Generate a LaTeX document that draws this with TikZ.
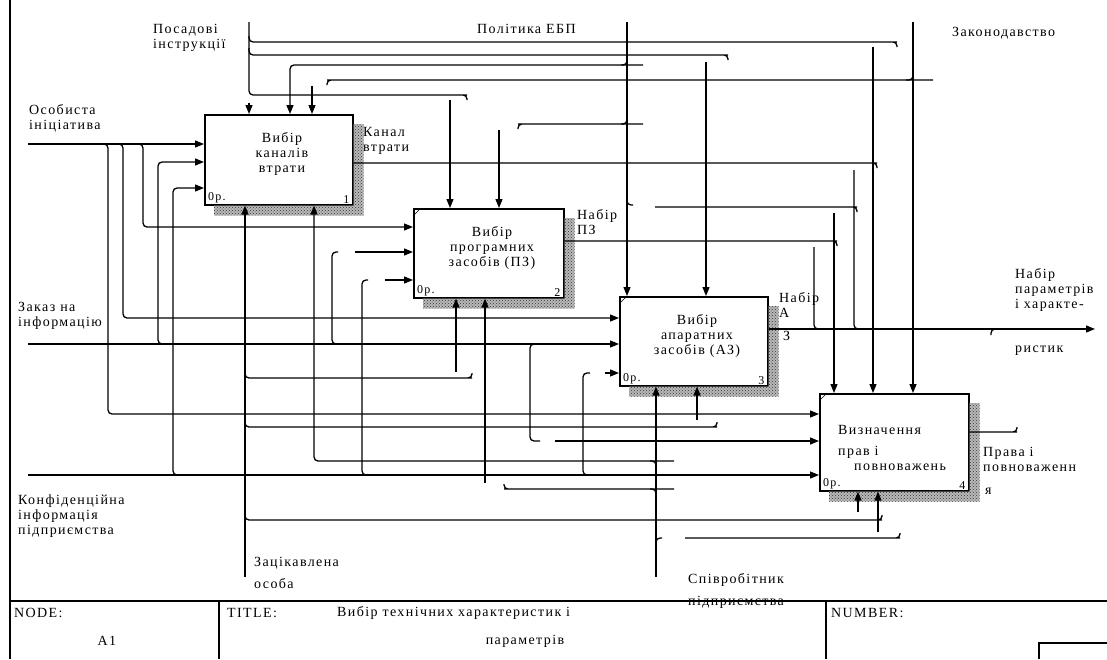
\documentclass[tikz,border=0pt]{standalone}
\usepackage{fontspec}
\setmainfont{Liberation Serif}
\newfontfamily\idef[LetterSpace=10]{Liberation Serif}
\usetikzlibrary{arrows.meta, patterns}

\begin{document}
\begin{tikzpicture}[x=1pt, y=-1pt,
    wire/.style={line width=1.3pt, rounded corners=4pt},
    arr/.style={wire, -{Triangle[length=9pt, width=7pt]}},
    fbox/.style={draw, line width=1.6pt, anchor=north west, inner sep=0pt},
    sh/.style={fill=gray!55, postaction={pattern=crosshatch dots, pattern color=black!80}},
    txt/.style={inner sep=0pt, font=\idef\fontsize{14}{15}\selectfont, align=center},
    lbl/.style={txt, anchor=west, align=left},
    num/.style={inner sep=0pt, font=\idef\fontsize{12}{12}\selectfont}]
  \useasboundingbox (0,0) rectangle (1107,659);

  % Activity boxes
  \node[fbox, minimum width=148pt, minimum height=90pt] (b1) at (204,114) {};
  \node[fbox, minimum width=150pt, minimum height=89pt] (b2) at (413,208) {};
  \node[fbox, minimum width=148pt, minimum height=89pt] (b3) at (619,296) {};
  \node[fbox, minimum width=149pt, minimum height=97pt] (b4) at (819,393) {};

  % Shadows, corner numbers
  \foreach \b/\n in {b1/1, b2/2, b3/3, b4/4}{
    \path[sh] ([shift={(0,10)}]\b.north east) rectangle ([shift={(10,10)}]\b.south east)
      ([shift={(10,0)}]\b.south west) rectangle ([shift={(10,10)}]\b.south east);
    \node[num, anchor=south west] (\b-o) at ([shift={(4,-2)}]\b.south west) {0р.};
    \node[num, anchor=south east] (\b-n) at ([shift={(-4,-2)}]\b.south east) {\n};
  }
  \foreach \b in {b2, b3, b4}
    \draw ([shift={(0,8)}]\b.north west) -- ([shift={(8,0)}]\b.north west);

  % Box texts
  \node[txt] (t1) at (282,154) {Вибір\\каналів\\втрати};
  \node[txt] (t2) at (492,248) {Вибір\\програмних\\засобів (ПЗ)};
  \node[txt] (t3) at (697,336) {Вибір\\апаратних\\засобів (АЗ)};
  \node[lbl] (t4a) at (838,430) {Визначення};
  \node[lbl] (t4b) at (838,452) {прав і};
  \node[lbl] (t4c) at (854,467) {повноважень};

  % Controls
  \draw[wire] (249,22) |- (463,95) -- ++(4,0) -- ++(0,5);
  \draw[wire] (249,36) |- (893,42) -- ++(4,0) -- ++(0,5);
  \draw[wire] (249,48) |- (724,55) -- ++(4,0) -- ++(0,5);
  \draw[arr] (249,103) -- (b1.north -| 249,0);
  \draw[arr] (913,22) -- (b4.north -| 913,0);
  \draw[wire] (933,80) -- (331,80) -- ++(-4,0) -- ++(0,5);
  \draw[wire] (913,74) |- (906,80);
  \draw[arr] (312,86) -- (b1.north -| 312,0);
  \draw[arr] (873,47) -- (b4.north -| 873,0);
  \draw[arr] (627,22) -- (b3.north -| 627,0);
  \draw[arr] (643,65) -- (290,65) -- (b1.north -| 290,0);
  \draw[wire] (627,59) |- (621,65);
  \draw[wire] (643,124) -- (522,124) -- ++(-4,0) -- ++(0,5);
  \draw[wire] (627,118) |- (621,124);
  \draw[arr] (499,130) -- (b2.north -| 499,0);
  \draw[arr] (450,100) -- (b2.north -| 450,0);
  \draw[arr] (706,62) -- (b3.north -| 706,0);
  \draw[wire] (627,199) |- (633,205);
  \draw[wire] (655,207) -- (853,207) -- ++(4,0) -- ++(0,5);
  \draw[arr] (834,213) -- (b4.north -| 834,0);

  % Outputs
  \draw[wire] (b1.east |- 0,163) -- (873,163) -- ++(4,0) -- ++(0,5);
  \draw[wire] (854,170) |- (866,329);
  \draw[wire] (b2.east |- 0,241) -- (833,241) -- ++(4,0) -- ++(0,5);
  \draw[wire] (814,247) |- (826,329);
  \draw[arr] (b3.east |- 0,329) -- (1095,329);
  \draw[wire] (991,335) |- (997,329);
  \draw[wire] (b4.east |- 0,432) -- (1013,432) -- ++(4,0) -- ++(0,-5);

  % Inputs
  \draw[arr] (28,144) -- (b1.west |- 0,144);
  \draw[arr] (100,144) -| (108,414) -- (b4.west |- 0,414);
  \draw[arr] (115,144) -| (123,318) -- (b3.west |- 0,318);
  \draw[arr] (135,144) -| (143,227) -- (b2.west |- 0,227);
  \draw[arr] (28,344) -- (b3.west |- 0,344);
  \draw[arr] (165,344) -| (158,162) -- (b1.west |- 0,162);
  \draw[wire] (345,344) -| (332,252) -- (338,252);
  \draw[arr] (355,252) -- (b2.west |- 0,252);
  \draw[wire] (546,344) -| (530,441) -- (540,441);
  \draw[arr] (555,441) -- (b4.west |- 0,441);
  \draw[arr] (28,475) -- (b4.west |- 0,475);
  \draw[arr] (180,475) -| (173,188) -- (b1.west |- 0,188);
  \draw[wire] (375,475) -| (362,280) -- (368,280);
  \draw[arr] (385,280) -- (b2.west |- 0,280);
  \draw[wire] (600,475) -| (583,373) -- (590,373);
  \draw[arr] (605,373) -- (b3.west |- 0,373);

  % Mechanisms
  \draw[arr] (245,577) -- (b1.south -| 245,0);
  \draw[wire] (245,371) |- (468,378) -- ++(4,0) -- ++(0,-5);
  \draw[arr] (456,372) -- (b2.south -| 456,0);
  \draw[wire] (245,420) |- (713,427) -- ++(4,0) -- ++(0,-5);
  \draw[arr] (697,420) -- (b3.south -| 697,0);
  \draw[wire] (245,513) |- (878,520) -- ++(4,0) -- ++(0,-5);
  \draw[arr] (858,512) -- (b4.south -| 858,0);
  \draw[arr] (656,577) -- (b3.south -| 656,0);
  \draw[arr] (674,461) -| (b1.south -| 314,0);
  \draw[wire] (650,461) -| (656,467);
  \draw[wire] (674,489) -- (508,489) -- ++(-4,0) -- ++(0,-5);
  \draw[arr] (485,483) -- (b2.south -| 485,0);
  \draw[wire] (650,489) -| (656,495);
  \draw[wire] (656,544) |- (662,538);
  \draw[wire] (685,538) -- (896,538) -- ++(4,0) -- ++(0,-5);
  \draw[arr] (878,532) -- (b4.south -| 878,0);

  % Arrow labels
  \node[lbl] (posad) at (153,38) {Посадові\\інструкції};
  \node[lbl] (polit) at (477,29) {Політика ЕБП};
  \node[lbl] (zakon) at (952,33) {Законодавство};
  \node[lbl] (osob) at (29,118) {Особиста\\ініціатива};
  \node[lbl] (kanal) at (363,141) {Канал\\втрати};
  \node[lbl] (nabpz) at (577,222) {Набір\\ПЗ};
  \node[lbl] (nabaz) at (779,305) {Набір\\А};
  \node[lbl] (nabz) at (783,336) {З};
  \node[lbl] (nabpar) at (1015,290) {Набір\\параметрів\\і характе-};
  \node[lbl] (rystyk) at (1015,351) {ристик};
  \node[lbl] (zakaz) at (18,316) {Заказ на\\інформацію};
  \node[lbl] (konf) at (18,516) {Конфіденційна\\інформація\\підприємства};
  \node[lbl] (zatsik) at (254,573) {Зацікавлена\\[7pt]особа};
  \node[lbl] (spivr) at (688,591) {Співробітник\\[7pt]підприємства};
  \node[lbl] (prava) at (983,459) {Права і\\повноваженн};
  \node[lbl] (prava2) at (985,491) {я};

  % Frame and title block
  \draw[line width=1.4pt] (10,0) -- (10,659);
  \draw[line width=1.4pt] (10,601) -- (1107,601);
  \draw[line width=1.4pt] (219,601) -- (219,659);
  \draw[line width=1.4pt] (826,601) -- (826,659);
  \draw[line width=1.2pt] (1039,659) |- (1107,643);
  \node[lbl] (node) at (14,613) {NODE:};
  \node[txt] (a1) at (107,641) {A1};
  \node[lbl] (title) at (227,613) {TITLE:};
  \node[lbl] (ttl1) at (337,613) {Вибір технічних характеристик і};
  \node[txt] (ttl2) at (525,641) {параметрів};
  \node[lbl] (number) at (831,613) {NUMBER:};
\end{tikzpicture}
\end{document}
